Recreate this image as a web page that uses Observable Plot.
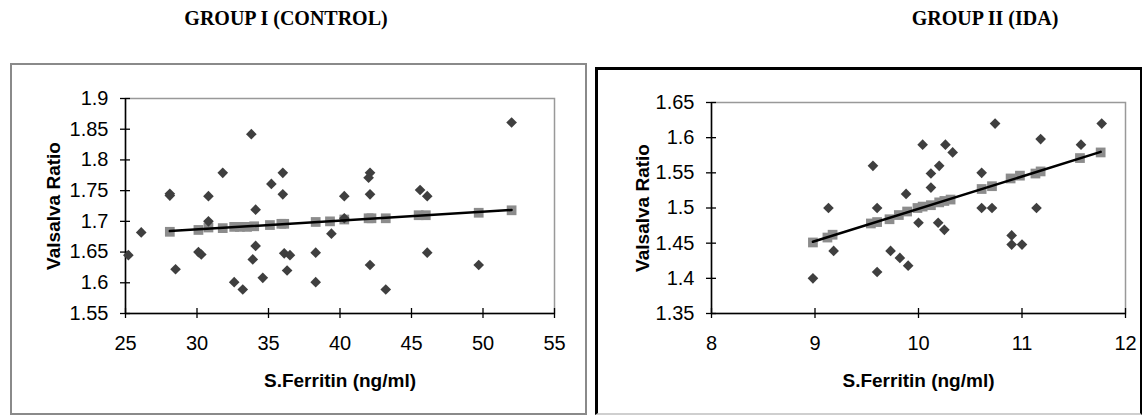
<!DOCTYPE html>
<html>
<head>
<meta charset="utf-8">
<script src="https://cdn.jsdelivr.net/npm/d3@7"></script>
<script src="https://cdn.jsdelivr.net/npm/@observablehq/plot@0.6"></script>
<style>
  html, body { margin: 0; padding: 0; background: #fff; }
  body { width: 1142px; height: 415px; position: relative; overflow: hidden; }
  .title { position: absolute; top: 7px; font-family: "Liberation Serif", "Times New Roman", serif; font-weight: bold; font-size: 20px; transform: translateX(-50%); white-space: nowrap; color: #000; }
  .frameL { position: absolute; left: 10px; top: 63px; width: 573px; height: 348px; border: 2px solid #8a8a8a; }
  .frameR { position: absolute; left: 595px; top: 67px; width: 542px; height: 343px; border-left: 3px solid #000; border-top: 3px solid #000; border-right: 2px solid #000; border-bottom: 2px solid #cfcfcf; }
  .chart { position: absolute; top: 60px; }
</style>
</head>
<body>
<div class="frameL"></div>
<div class="frameR"></div>
<div class="title" style="left:286px">GROUP I (CONTROL)</div>
<div class="title" style="left:985px">GROUP II (IDA)</div>
<div id="left" class="chart" style="left:0px"></div>
<div id="right" class="chart" style="left:590px"></div>
<script>
// ---- Group I (Control) ----
const ctrlFerritin = [25.2, 26.1, 28.1, 28.1, 28.5, 30.1, 30.3, 30.8, 30.8, 31.8, 32.6, 33.2, 33.8, 34.1, 34.1, 33.9, 34.6, 35.2, 36.0, 36.0, 36.1, 36.5, 36.3, 38.3, 38.3, 39.4, 40.3, 40.3, 42.1, 42.0, 42.1, 42.1, 43.2, 45.6, 46.1, 46.1, 49.7, 52.0];
const ctrlRatio    = [1.645, 1.682, 1.745, 1.742, 1.622, 1.650, 1.646, 1.741, 1.700, 1.779, 1.601, 1.589, 1.842, 1.719, 1.660, 1.638, 1.608, 1.761, 1.779, 1.744, 1.648, 1.645, 1.620, 1.649, 1.601, 1.680, 1.741, 1.705, 1.779, 1.771, 1.744, 1.629, 1.589, 1.751, 1.741, 1.649, 1.629, 1.861];
const ctrlFitX = [28.1, 30.1, 30.8, 31.8, 32.6, 33.0, 33.5, 34.0, 35.1, 35.9, 36.1, 38.3, 39.3, 40.3, 42.0, 42.2, 43.2, 45.5, 46.0, 49.7, 52.0];
const ctrlFitY = [1.683, 1.686, 1.690, 1.689, 1.691, 1.691, 1.691, 1.692, 1.694, 1.696, 1.696, 1.699, 1.700, 1.703, 1.705, 1.705, 1.705, 1.710, 1.710, 1.714, 1.718];
const ctrlXTicks = [25, 30, 35, 40, 45, 50, 55];
const ctrlYTicks = [1.55, 1.6, 1.65, 1.7, 1.75, 1.8, 1.85, 1.9];

// ---- Group II (IDA) ----
const idaFerritin = [8.98, 9.13, 9.18, 9.56, 9.60, 9.60, 9.73, 9.82, 9.90, 9.88, 10.0, 10.04, 10.12, 10.12, 10.20, 10.19, 10.25, 10.26, 10.33, 10.61, 10.61, 10.71, 10.74, 10.90, 10.90, 11.0, 11.14, 11.18, 11.57, 11.77];
const idaRatio    = [1.400, 1.500, 1.439, 1.560, 1.500, 1.409, 1.439, 1.429, 1.418, 1.520, 1.479, 1.590, 1.529, 1.549, 1.560, 1.479, 1.469, 1.590, 1.579, 1.550, 1.500, 1.500, 1.620, 1.461, 1.448, 1.448, 1.500, 1.598, 1.590, 1.620];
const idaFitX = [8.98, 9.12, 9.17, 9.54, 9.60, 9.72, 9.81, 9.89, 9.99, 10.04, 10.12, 10.20, 10.25, 10.31, 10.61, 10.71, 10.89, 10.98, 11.13, 11.18, 11.56, 11.76];
const idaFitY = [1.451, 1.458, 1.462, 1.478, 1.480, 1.484, 1.490, 1.495, 1.500, 1.502, 1.504, 1.508, 1.510, 1.512, 1.527, 1.531, 1.542, 1.546, 1.549, 1.552, 1.571, 1.579];
const idaXTicks = [8, 9, 10, 11, 12];
const idaYTicks = [1.35, 1.4, 1.45, 1.5, 1.55, 1.6, 1.65];

const xLabel = "S.Ferritin (ng/ml)";
const yLabel = "Valsalva Ratio";

function scatter({xs, ys, fx, fy, xTicks, yTicks, width, height, margins, yLabelDx}) {
  const pts = xs.map((x, i) => ({x, y: ys[i]}));
  const fit = fx.map((x, i) => ({x, y: fy[i]}));
  const xDom = [d3.min(xTicks), d3.max(xTicks)];
  const yDom = [d3.min(yTicks), d3.max(yTicks)];
  return Plot.plot({
    width, height,
    marginLeft: margins[0], marginRight: margins[1], marginTop: margins[2], marginBottom: margins[3],
    style: {fontFamily: "'Liberation Sans', Arial, sans-serif", fontSize: "20px", background: "transparent", color: "#000", overflow: "visible"},
    x: {domain: xDom, label: null},
    y: {domain: yDom, label: null},
    marks: [
      Plot.frame({stroke: "#999", strokeWidth: 1.5}),
      Plot.ruleX([xDom[0]], {stroke: "#000", strokeWidth: 1.5}),
      Plot.ruleY([yDom[0]], {stroke: "#000", strokeWidth: 1.5}),
      Plot.axisX({ticks: xTicks, tickSize: 10, dy: -5, tickPadding: 17, tickFormat: d => String(d), strokeWidth: 1.3, fontSize: 20, label: null}),
      Plot.axisY({ticks: yTicks, tickSize: 10, dx: 5, tickPadding: 12, tickFormat: d => String(d), strokeWidth: 1.3, fontSize: 20, label: null}),
      Plot.dot(fit, {x: "x", y: "y", symbol: "square", r: 5.5, fill: "#8c8c8c", stroke: "none"}),
      Plot.dot(pts, {x: "x", y: "y", symbol: "diamond2", r: 4.8, fill: "#3f3f3f", stroke: "none"}),
      Plot.linearRegressionY(fit, {x: "x", y: "y", stroke: "#000", strokeWidth: 2.5, ci: 0}),
      Plot.text([xLabel], {frameAnchor: "bottom", dy: 67, lineAnchor: "middle", textAnchor: "middle", fontWeight: "bold", fontSize: 19}),
      Plot.text([yLabel], {frameAnchor: "left", dx: yLabelDx, rotate: -90, textAnchor: "middle", lineAnchor: "middle", fontWeight: "bold", fontSize: 19})
    ]
  });
}

document.getElementById("left").append(scatter({
  xs: ctrlFerritin, ys: ctrlRatio, fx: ctrlFitX, fy: ctrlFitY,
  xTicks: ctrlXTicks, yTicks: ctrlYTicks,
  width: 590, height: 355, margins: [125, 36, 38, 102], yLabelDx: -72
}));
document.getElementById("right").append(scatter({
  xs: idaFerritin, ys: idaRatio, fx: idaFitX, fy: idaFitY,
  xTicks: idaXTicks, yTicks: idaYTicks,
  width: 552, height: 355, margins: [121, 17, 42, 102], yLabelDx: -69
}));
</script>
</body>
</html>
